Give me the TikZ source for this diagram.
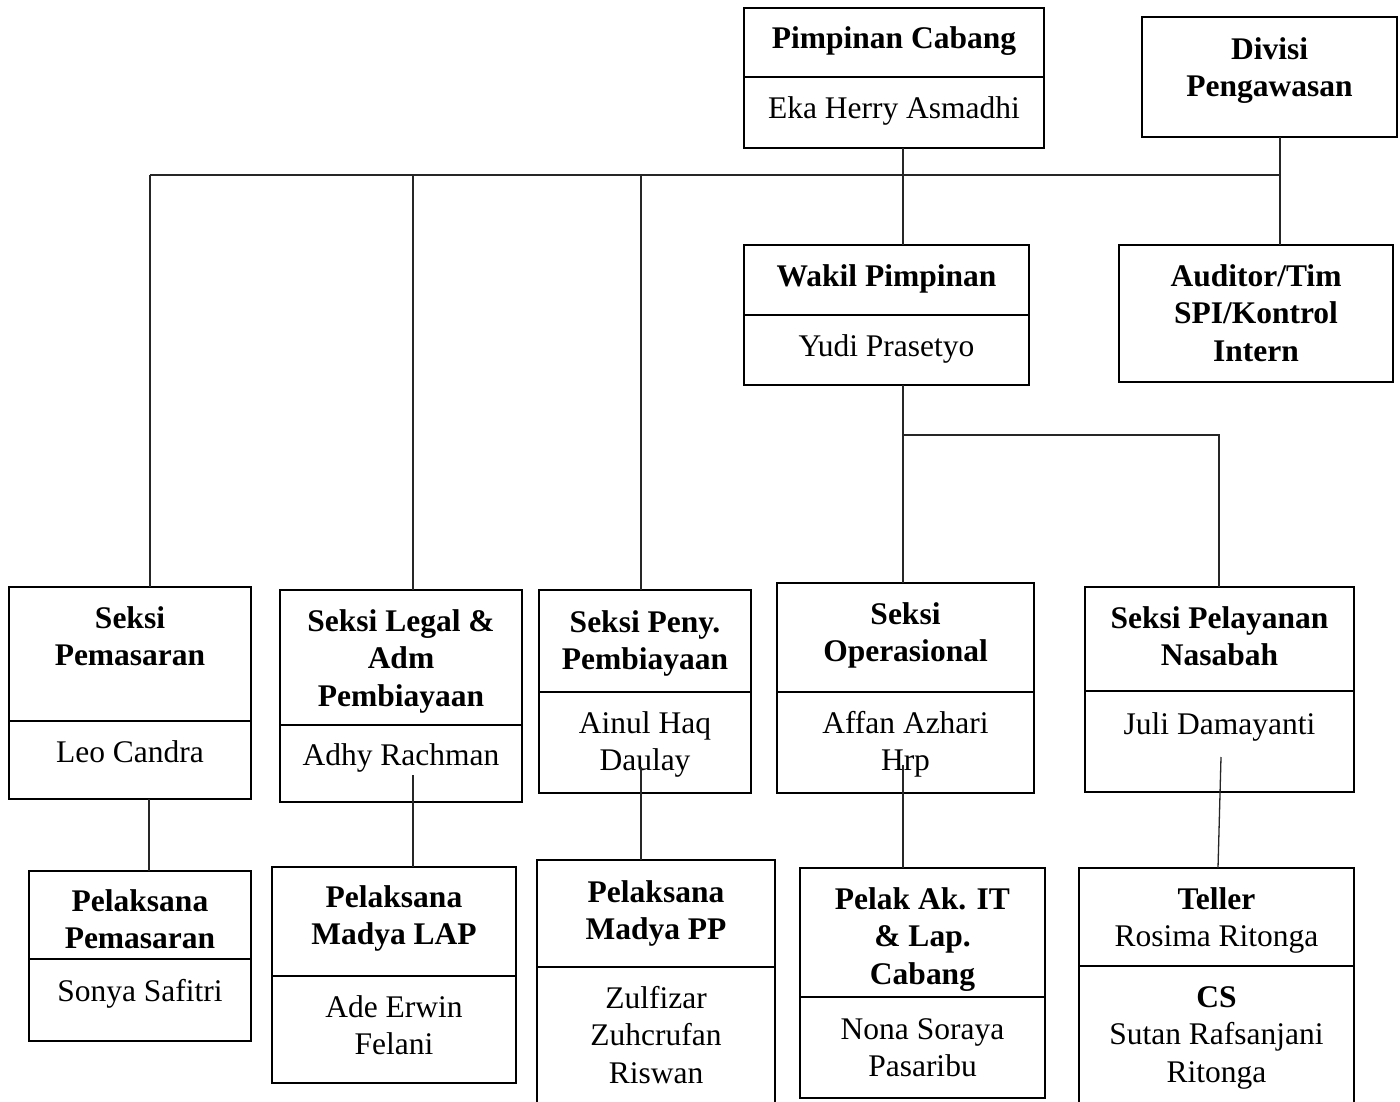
\documentclass[tikz,border=0pt]{standalone}
\usepackage{fontspec}
\setmainfont{Liberation Serif}
\tikzset{
  x=1pt, y=-1pt,
  partthick/.style={draw=black, line width=2.6pt, rectangle, inner sep=0pt, outer sep=0pt},
  partthin/.style={draw=black, line width=1.2pt, rectangle, inner sep=0pt, outer sep=0pt},
  txt/.style={align=center, inner sep=0pt, font=\fontsize{31.5}{37.5}\selectfont},
  btxt/.style={txt, font=\fontsize{31.5}{37.5}\selectfont\bfseries},
  conn/.style={draw=black!85, line width=1.3pt},
}
% name, x1, y1, x2, y2, baseline, box style, text style, text
\newcommand\boxpart[9]{%
  \node[#7, minimum width={(#4-#2)*1pt}, minimum height={(#5-#3)*1pt}, anchor=north west] (#1) at (#2,#3) {};
  \node[#8, anchor=north] (#1-t) at ({(#2+#4)/2},{#6-26.25}) {\strut #9};
}
\begin{document}
\begin{tikzpicture}
\useasboundingbox[fill=white] (0,0) rectangle (1400,1102);

% top
\boxpart{pcA}{744}{8}{1044}{77}{48}{partthick}{btxt}{Pimpinan Cabang}
\boxpart{pcB}{744}{77}{1044}{148}{118}{partthick}{txt}{Eka Herry Asmadhi}
\boxpart{dv}{1142}{17}{1397}{137}{59}{partthin}{btxt}{Divisi\\Pengawasan}
\boxpart{wpA}{744}{245}{1029}{315}{286}{partthick}{btxt}{Wakil Pimpinan}
\boxpart{wpB}{744}{315}{1029}{385}{356}{partthick}{txt}{Yudi Prasetyo}
\boxpart{au}{1119}{245}{1393}{382}{286}{partthin}{btxt}{Auditor/Tim\\SPI/Kontrol\\Intern}

% middle row
\boxpart{spA}{9}{587}{251}{721}{628}{partthick}{btxt}{Seksi\\Pemasaran}
\boxpart{spB}{9}{721}{251}{799}{762}{partthick}{txt}{Leo Candra}
\boxpart{slA}{280}{590}{522}{725}{631}{partthick}{btxt}{Seksi Legal \&\\Adm\\Pembiayaan}
\boxpart{slB}{280}{725}{522}{802}{765}{partthick}{txt}{Adhy Rachman}
\boxpart{pyA}{539}{590}{751}{692}{632}{partthick}{btxt}{Seksi Peny.\\Pembiayaan}
\boxpart{pyB}{539}{692}{751}{793}{733}{partthick}{txt}{Ainul Haq\\Daulay}
\boxpart{soA}{777}{583}{1034}{692}{624}{partthick}{btxt}{Seksi\\Operasional}
\boxpart{soB}{777}{692}{1034}{793}{733}{partthick}{txt}{Affan Azhari\\Hrp}
\boxpart{snA}{1085}{587}{1354}{691}{628}{partthick}{btxt}{Seksi Pelayanan\\Nasabah}
\boxpart{snB}{1085}{691}{1354}{792}{734}{partthick}{txt}{Juli Damayanti}

% bottom row
\boxpart{ppA}{29}{871}{251}{959}{911}{partthick}{btxt}{Pelaksana\\Pemasaran}
\boxpart{ppB}{29}{959}{251}{1041}{1001}{partthick}{txt}{Sonya Safitri}
\boxpart{laA}{272}{867}{516}{976}{907}{partthick}{btxt}{Pelaksana\\Madya LAP}
\boxpart{laB}{272}{976}{516}{1083}{1017}{partthick}{txt}{Ade Erwin\\Felani}
\boxpart{mpA}{537}{860}{775}{967}{902}{partthick}{btxt}{Pelaksana\\Madya PP}
\boxpart{mpB}{537}{967}{775}{1110}{1008}{partthick}{txt}{Zulfizar\\Zuhcrufan\\Riswan}
\boxpart{itA}{800}{868}{1045}{997}{909}{partthick}{btxt}{Pelak Ak. IT\\\& Lap.\\Cabang}
\boxpart{itB}{800}{997}{1045}{1098}{1039}{partthick}{txt}{Nona Soraya\\Pasaribu}
\boxpart{tlA}{1079}{868}{1354}{966}{909}{partthick}{txt}{\textbf{Teller}\\Rosima Ritonga}
\boxpart{tlB}{1079}{966}{1354}{1110}{1007}{partthick}{txt}{\textbf{CS}\\Sutan Rafsanjani\\Ritonga}

% connectors
\coordinate (busL) at (150,175);
\coordinate (busR) at (1280,175);
\coordinate (b2) at (413,175);
\coordinate (b3) at (641,175);
\coordinate (bpw) at (903,175);
\coordinate (w1) at (903,435);
\coordinate (w2) at (1219,435);
\draw[conn] (busL) -- (busR);
\draw[conn] (busL) -- (busL |- spA.north);
\draw[conn] (b2) -- (b2 |- slA.north);
\draw[conn] (b3) -- (b3 |- pyA.north);
\draw[conn] (bpw |- pcB.south) -- (bpw |- wpA.north);
\draw[conn] (busR |- dv.south) -- (busR |- au.north);
\draw[conn] (w1 |- wpB.south) -- (w1) -- (w2) -- (w2 |- snA.north);
\draw[conn] (w1) -- (w1 |- soA.north);

\coordinate (l1) at (149,0);
\coordinate (l2) at (413,775);
\coordinate (l3) at (641,767);
\coordinate (l4) at (903,765);
\coordinate (l5) at (1221,757);
\coordinate (l5b) at (1218,0);
\draw[conn] (l1 |- spB.south) -- (l1 |- ppA.north);
\draw[conn] (l2) -- (l2 |- laA.north);
\draw[conn] (l3) -- (l3 |- mpA.north);
\draw[conn] (l4) -- (l4 |- itA.north);
\draw[conn] (l5) -- (l5b |- tlA.north);
\end{tikzpicture}
\end{document}
